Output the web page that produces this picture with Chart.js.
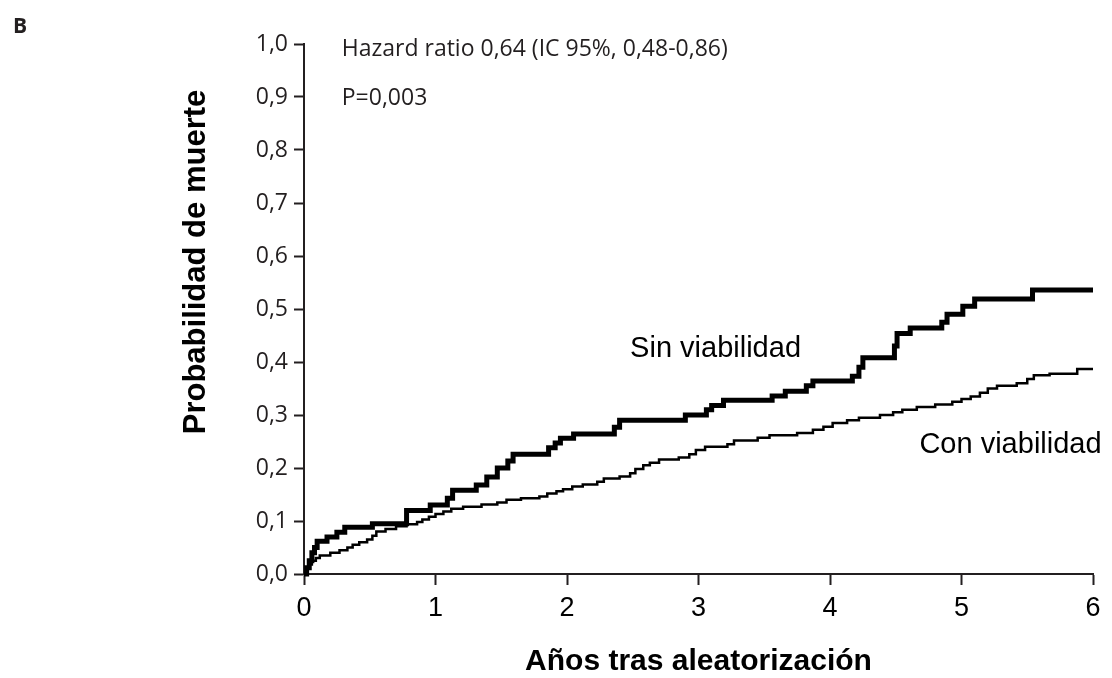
<!DOCTYPE html>
<html>
<head>
<meta charset="utf-8">
<title>Probabilidad de muerte</title>
<script src="https://cdn.jsdelivr.net/npm/chart.js@4.4.1/dist/chart.umd.min.js"></script>
<style>
  html, body { margin: 0; padding: 0; background: #fff; }
  #wrap { width: 1112px; height: 678px; }
</style>
</head>
<body>
<div id="wrap"><canvas id="chart" width="1112" height="678"></canvas></div>
<script>
// Sin viabilidad (curva gruesa)
const sinTime = [0, 0.02, 0.04, 0.06, 0.08, 0.10, 0.175, 0.25, 0.31, 0.52, 0.78, 0.96, 1.09, 1.13, 1.31, 1.39, 1.47, 1.55, 1.59, 1.86, 1.91, 1.95, 2.05, 2.36, 2.40, 2.90, 3.06, 3.10, 3.19, 3.56, 3.66, 3.82, 3.87, 4.17, 4.22, 4.25, 4.49, 4.51, 4.61, 4.85, 4.89, 5.01, 5.10, 5.54, 6.0];
const sinProb = [0, 0.012, 0.025, 0.04, 0.05, 0.062, 0.07, 0.079, 0.088, 0.095, 0.12, 0.13, 0.143, 0.158, 0.168, 0.183, 0.20, 0.213, 0.226, 0.238, 0.247, 0.256, 0.264, 0.277, 0.29, 0.30, 0.31, 0.318, 0.328, 0.336, 0.345, 0.355, 0.364, 0.373, 0.39, 0.408, 0.43, 0.454, 0.464, 0.475, 0.49, 0.505, 0.519, 0.536, 0.536];

// Con viabilidad (curva fina)
const conTime = [0, 0.02, 0.04, 0.06, 0.09, 0.12, 0.2, 0.27, 0.33, 0.37, 0.42, 0.48, 0.52, 0.55, 0.62, 0.70, 0.78, 0.86, 0.90, 0.95, 1.0, 1.06, 1.12, 1.21, 1.35, 1.47, 1.54, 1.65, 1.79, 1.85, 1.92, 1.97, 2.04, 2.12, 2.23, 2.28, 2.40, 2.48, 2.52, 2.58, 2.63, 2.70, 2.85, 2.93, 2.98, 3.05, 3.22, 3.27, 3.45, 3.54, 3.75, 3.87, 3.95, 4.02, 4.13, 4.22, 4.38, 4.48, 4.55, 4.66, 4.80, 4.93, 5.0, 5.07, 5.14, 5.2, 5.27, 5.42, 5.50, 5.55, 5.67, 5.88, 6.0];
const conProb = [0, 0.01, 0.018, 0.025, 0.03, 0.035, 0.04, 0.045, 0.05, 0.055, 0.06, 0.065, 0.072, 0.08, 0.085, 0.09, 0.094, 0.098, 0.103, 0.108, 0.113, 0.118, 0.123, 0.127, 0.131, 0.135, 0.14, 0.143, 0.146, 0.152, 0.156, 0.16, 0.165, 0.169, 0.174, 0.18, 0.184, 0.19, 0.198, 0.205, 0.21, 0.216, 0.22, 0.226, 0.234, 0.24, 0.245, 0.252, 0.257, 0.262, 0.266, 0.272, 0.278, 0.285, 0.29, 0.295, 0.30, 0.305, 0.31, 0.315, 0.32, 0.325, 0.33, 0.335, 0.342, 0.35, 0.355, 0.36, 0.368, 0.375, 0.378, 0.387, 0.387];

// Ejes
const xMin = 0, xMax = 6, xStep = 1;
const yMin = 0, yMax = 1, yStep = 0.1;

// Textos
const panelLetter = 'B';
const hazardText = 'Hazard ratio 0,64 (IC 95%, 0,48-0,86)';
const pText = 'P=0,003';
const sinLabel = 'Sin viabilidad';
const conLabel = 'Con viabilidad';
const yTitle = 'Probabilidad de muerte';
const xTitle = 'Años tras aleatorización';

const ink = '#231f20';

function toPoints(xs, ys) {
    return xs.map((t, i) => ({ x: t, y: ys[i] }));
}

// Plugin para los textos sueltos
const textPlugin = {
    id: 'textos',
    afterDraw(chart) {
        const ctx = chart.ctx;
        const xs = chart.scales.x;
        const ys = chart.scales.y;
        ctx.save();
        ctx.fillStyle = ink;
        ctx.textAlign = 'left';
        ctx.textBaseline = 'alphabetic';

        ctx.font = 'bold 21px "Open Sans"';
        ctx.fillText(panelLetter, 13, 33);

        ctx.font = '23px "Open Sans"';
        ctx.fillText(hazardText, xs.getPixelForValue(0.287), ys.getPixelForValue(0.978));
        ctx.fillText(pText, xs.getPixelForValue(0.287), ys.getPixelForValue(0.885));

        ctx.fillStyle = '#000';
        ctx.font = '29px "Liberation Sans", Arial, sans-serif';
        ctx.fillText(sinLabel, xs.getPixelForValue(2.48), ys.getPixelForValue(0.41));
        ctx.fillText(conLabel, xs.getPixelForValue(4.68), ys.getPixelForValue(0.228));

        // titulo eje y (no centrado en el area)
        ctx.font = 'bold 31px "Liberation Sans", Arial, sans-serif';
        ctx.textAlign = 'center';
        ctx.textBaseline = 'middle';
        ctx.translate(196, 262);
        ctx.rotate(-Math.PI / 2);
        ctx.fillText(yTitle, 0, 0);
        ctx.restore();
    }
};

// Crear grafico
const ctx = document.getElementById('chart').getContext('2d');
const chart = new Chart(ctx, {
    type: 'line',
    data: {
        datasets: [{
            label: sinLabel,
            data: toPoints(sinTime, sinProb),
            borderColor: '#000',
            borderWidth: 5,
            stepped: 'before',
            pointRadius: 0,
            borderJoinStyle: 'miter',
            borderCapStyle: 'butt',
            clip: false
        }, {
            label: conLabel,
            data: toPoints(conTime, conProb),
            borderColor: '#000',
            borderWidth: 2.5,
            stepped: 'before',
            pointRadius: 0,
            borderJoinStyle: 'miter',
            borderCapStyle: 'butt',
            clip: false
        }]
    },
    options: {
        responsive: false,
        animation: false,
        devicePixelRatio: 1,
        layout: { padding: { left: 0, right: 19, top: 44, bottom: 0 } },
        plugins: {
            legend: { display: false },
            tooltip: { enabled: false }
        },
        scales: {
            x: {
                type: 'linear',
                min: xMin,
                max: xMax,
                afterFit(scale) { scale.height = 104; },
                border: { display: true, color: ink, width: 2 },
                grid: { drawOnChartArea: false, drawTicks: true, tickLength: 11, tickColor: ink, tickWidth: 2 },
                ticks: {
                    stepSize: xStep,
                    padding: 7,
                    color: '#000',
                    font: { family: '"Liberation Sans", Arial, sans-serif', size: 27 },
                    maxRotation: 0,
                    callback: (v) => String(v)
                },
                title: {
                    display: true,
                    text: xTitle,
                    color: '#000',
                    font: { family: '"Liberation Sans", Arial, sans-serif', size: 30, weight: 'bold', lineHeight: 1 },
                    padding: { top: 0, bottom: 1 }
                }
            },
            y: {
                min: yMin,
                max: yMax,
                afterFit(scale) { scale.width = 304; },
                border: { display: true, color: ink, width: 2 },
                grid: { drawOnChartArea: false, drawTicks: true, tickLength: 10, tickColor: ink, tickWidth: 2 },
                ticks: {
                    stepSize: yStep,
                    padding: 6,
                    color: ink,
                    font: { family: '"Open Sans"', size: 23 },
                    callback: (v) => v.toFixed(1).replace('.', ',')
                }
            }
        }
    },
    plugins: [textPlugin]
});
</script>
</body>
</html>
